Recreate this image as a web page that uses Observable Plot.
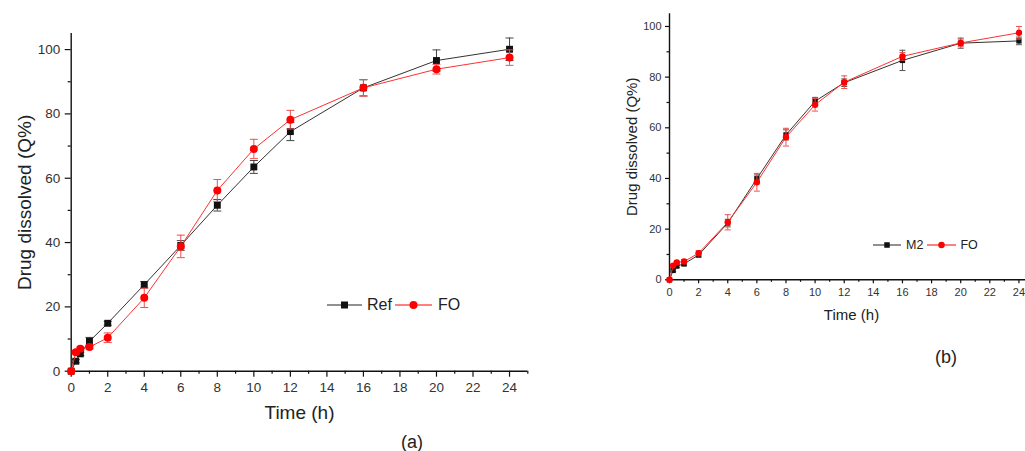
<!DOCTYPE html>
<html><head><meta charset="utf-8">
<script src="https://cdn.jsdelivr.net/npm/d3@7"></script>
<script src="https://cdn.jsdelivr.net/npm/@observablehq/plot@0.6"></script>
<style>
html,body{margin:0;padding:0;background:#fff;overflow:hidden;width:1025px;height:451px;}
#root{position:relative;width:1025px;height:451px;overflow:hidden;font-family:"Liberation Sans",Arial,sans-serif;background:#fff;}
.panel{position:absolute;top:0;}
.tag{position:absolute;font-size:18px;color:#222;transform:translate(-50%,-50%);line-height:1;}
.legend{position:absolute;display:flex;align-items:center;color:#222;transform:translateY(-50%);white-space:nowrap;line-height:1;}
.legend svg{display:block;}
</style></head><body><div id="root"></div>
<script>
// ---- data ----
const time = [0, 0.25, 0.5, 1, 2, 4, 6, 8, 10, 12, 16, 20, 24];
// panel (a)
const refA    = [0, 3.1, 5.4, 9.3, 14.9, 26.9, 39.1, 51.6, 63.5, 74.5, 88.1, 96.6, 100.1];
const refErrA = [0, 0.5, 0.5, 1.2, 0.6, 1.0, 1.5, 1.8, 2.0, 2.8, 2.5, 3.3, 3.5];
const foA     = [0, 5.9, 7.0, 7.5, 10.4, 22.8, 38.8, 56.2, 69.1, 78.2, 88.1, 93.9, 97.5];
const foErrA  = [0, 0.5, 0.5, 0.6, 1.5, 3.0, 3.5, 3.4, 3.0, 2.9, 2.6, 1.5, 2.4];
// panel (b)
const m2B     = [0, 3.7, 5.4, 6.3, 9.8, 22.4, 39.9, 57.2, 70.5, 77.8, 86.6, 93.4, 94.3];
const m2ErrB  = [0, 0.5, 0.5, 0.8, 0.8, 1.5, 1.5, 2.0, 1.5, 1.5, 4.0, 2.0, 1.5];
const foB     = [0, 5.6, 6.8, 7.2, 10.5, 22.7, 38.5, 56.3, 69.1, 78.0, 88.2, 93.5, 97.5];
const foErrB  = [0, 0.5, 0.5, 0.8, 1.0, 3.0, 3.5, 3.5, 2.5, 2.5, 1.5, 1.5, 2.5];

const xMajor = [0, 2, 4, 6, 8, 10, 12, 14, 16, 18, 20, 22, 24];
const xMinor = [1, 3, 5, 7, 9, 11, 13, 15, 17, 19, 21, 23, 25];
const yMajor = [0, 20, 40, 60, 80, 100];
const yMinor = [10, 30, 50, 70, 90];

const xLabel = "Time (h)";
const yLabel = "Drug dissolved (Q%)";

const BLACK = "#111", RED = "#ff0000";

const capSymbol = {
  draw(ctx, size) { const w = Math.sqrt(size / Math.PI); ctx.moveTo(-w, 0); ctx.lineTo(w, 0); }
};

function panel(cfg) {
  const marks = [
    Plot.axisY({ticks: yMajor, tickSize: cfg.tickSize, tickPadding: cfg.pad, fontSize: cfg.tickFont, label: null, stroke: "#111", strokeWidth: 1.2}),
    Plot.axisY({ticks: yMinor, tickSize: cfg.minorSize, text: null, label: null, stroke: "#111", strokeWidth: 1.2}),
    Plot.axisX({ticks: xMajor, tickSize: cfg.tickSize, tickPadding: cfg.pad, fontSize: cfg.tickFont, label: null, stroke: "#111", strokeWidth: 1.2}),
    Plot.axisX({ticks: xMinor, tickSize: cfg.minorSize, text: null, label: null, stroke: "#111", strokeWidth: 1.2}),
    Plot.ruleX([0], {stroke: "#111", strokeWidth: 1.4}),
    Plot.ruleY([0], {stroke: "#111", strokeWidth: 1.4}),
    Plot.text([xLabel], {text: d => d, frameAnchor: "bottom", textAnchor: "middle", lineAnchor: "middle", dy: cfg.xLabelDy, fontSize: cfg.labelFont, fill: "#222"}),
    Plot.text([yLabel], {text: d => d, frameAnchor: "left", textAnchor: "middle", lineAnchor: "middle", rotate: -90, dx: cfg.yLabelDx, fontSize: cfg.labelFont, fill: "#222"})
  ];
  for (const s of cfg.series) {
    const rows = time.map((t, i) => ({t, v: s.v[i], e: s.e[i]}));
    const err = rows.filter(d => d.e > 0);
    marks.push(
      Plot.ruleX(err, {x: "t", y1: d => d.v - d.e, y2: d => d.v + d.e, stroke: s.errColor, strokeWidth: 1}),
      Plot.dot(err, {x: "t", y: d => d.v + d.e, symbol: capSymbol, r: cfg.capR, stroke: s.errColor, strokeWidth: 1, fill: "none"}),
      Plot.dot(err, {x: "t", y: d => d.v - d.e, symbol: capSymbol, r: cfg.capR, stroke: s.errColor, strokeWidth: 1, fill: "none"}),
      Plot.line(rows, {x: "t", y: "v", stroke: s.lineColor, strokeWidth: 1}),
      Plot.dot(rows, {x: "t", y: "v", symbol: s.symbol, r: s.symbol === "square" ? cfg.sqR : cfg.circR, fill: s.color, stroke: "none"})
    );
  }
  return Plot.plot({
    width: cfg.width, height: cfg.height,
    marginTop: cfg.mt, marginBottom: cfg.mb, marginLeft: cfg.ml, marginRight: cfg.mr,
    x: {domain: [0, 25]},
    y: {domain: [0, 105]},
    style: {fontFamily: "'Liberation Sans', Arial, sans-serif", color: "#333", background: "transparent", overflow: "visible"},
    marks
  });
}

function legend(items, left, top, fontSize) {
  const div = document.createElement("div");
  div.className = "legend";
  div.style.left = left + "px"; div.style.top = top + "px"; div.style.fontSize = fontSize + "px";
  for (const it of items) {
    const w = it.w, h = 14, c = h / 2;
    const ns = "http://www.w3.org/2000/svg";
    const svg = document.createElementNS(ns, "svg");
    svg.setAttribute("width", w); svg.setAttribute("height", h);
    svg.style.marginLeft = it.gap + "px";
    const ln = document.createElementNS(ns, "line");
    ln.setAttribute("x1", 0); ln.setAttribute("x2", w); ln.setAttribute("y1", c); ln.setAttribute("y2", c);
    ln.setAttribute("stroke", it.lineColor); ln.setAttribute("stroke-width", 1);
    svg.appendChild(ln);
    let m;
    if (it.symbol === "square") {
      m = document.createElementNS(ns, "rect");
      m.setAttribute("x", w / 2 - it.size / 2); m.setAttribute("y", c - it.size / 2);
      m.setAttribute("width", it.size); m.setAttribute("height", it.size);
    } else {
      m = document.createElementNS(ns, "circle");
      m.setAttribute("cx", w / 2); m.setAttribute("cy", c); m.setAttribute("r", it.size / 2);
    }
    m.setAttribute("fill", it.color);
    svg.appendChild(m);
    div.appendChild(svg);
    const sp = document.createElement("span");
    sp.textContent = it.label; sp.style.marginLeft = it.textGap + "px";
    div.appendChild(sp);
  }
  return div;
}

const root = document.getElementById("root");

const pa = panel({
  width: 545, height: 430, mt: 33, mb: 59.3, ml: 70.7, mr: 17.7,
  tickFont: 13.5, labelFont: 19, tickSize: 6, minorSize: 3, pad: 5,
  xLabelDy: 42, yLabelDx: -46, sqR: 3.9, circR: 4, capR: 4,
  series: [
    {v: refA, e: refErrA, symbol: "square", color: BLACK, lineColor: "#333", errColor: "#444"},
    {v: foA, e: foErrA, symbol: "circle", color: RED, lineColor: "#ff3030", errColor: "#f05050"}
  ]
});
pa.classList.add("panel"); pa.style.left = "0px";
root.appendChild(pa);

const pb = panel({
  width: 440, height: 330, mt: 13.3, mb: 50.7, ml: 69, mr: 7,
  tickFont: 11, labelFont: 15, tickSize: 4, minorSize: 2.5, pad: 4,
  xLabelDy: 35, yLabelDx: -37, sqR: 3, circR: 3.2, capR: 3,
  series: [
    {v: m2B, e: m2ErrB, symbol: "square", color: BLACK, lineColor: "#333", errColor: "#555"},
    {v: foB, e: foErrB, symbol: "circle", color: RED, lineColor: "#ff3030", errColor: "#f05050"}
  ]
});
pb.classList.add("panel"); pb.style.left = "600px";
root.appendChild(pb);

root.appendChild(legend([
  {label: "Ref", symbol: "square", color: BLACK, lineColor: "#222", w: 35, size: 7, gap: 0, textGap: 5},
  {label: "FO", symbol: "circle", color: RED, lineColor: RED, w: 37, size: 8, gap: 3, textGap: 6}
], 327, 305, 16));

root.appendChild(legend([
  {label: "M2", symbol: "square", color: BLACK, lineColor: "#222", w: 28, size: 5.5, gap: 0, textGap: 5},
  {label: "FO", symbol: "circle", color: RED, lineColor: RED, w: 29, size: 6.5, gap: 4, textGap: 4}
], 873, 245, 12.5));

for (const [t, x, y] of [["(a)", 412, 442], ["(b)", 946, 357]]) {
  const d = document.createElement("div");
  d.className = "tag"; d.textContent = t; d.style.left = x + "px"; d.style.top = y + "px";
  root.appendChild(d);
}
</script></body></html>
